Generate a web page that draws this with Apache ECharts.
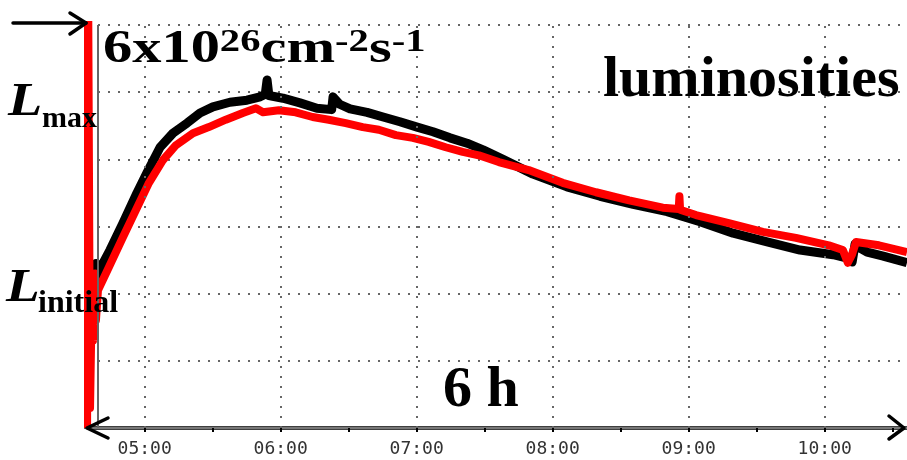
<!DOCTYPE html>
<html><head><meta charset="utf-8">
<script src="https://cdn.jsdelivr.net/npm/echarts@6/dist/echarts.min.js"></script>
<style>html,body{margin:0;padding:0;background:#fff}#c{width:907px;height:460px}</style>
</head><body><div id="c"></div>
<script>
// x values: minutes after midnight; y values: luminosity in 10^26 cm^-2 s^-1
const blackTime = [278.1,278.5,279.0,279.4,280.3,281.6,284.7,290.4,296.6,301.0,306.8,312.5,318.7,324.4,330.1,337.6,345.1,350.9,353.2,354.0,354.8,361.0,368.5,376.0,382.5,383.1,386.0,390.6,398.1,405.2,412.6,420.2,427.2,434.7,442.2,449.3,458.1,471.3,486.3,500.9,515.5,530.5,545.0,559.6,574.6,589.1,603.7,609.9,612.1,613.4,615.6,618.7,625.8,636.3];
const blackLum  = [2.25,2.45,2.10,2.40,2.35,2.45,2.65,3.05,3.50,3.80,4.18,4.39,4.54,4.69,4.78,4.85,4.88,4.93,4.97,5.18,4.95,4.91,4.84,4.76,4.74,4.93,4.82,4.75,4.70,4.63,4.56,4.48,4.41,4.32,4.24,4.14,4.00,3.78,3.59,3.45,3.33,3.22,3.07,2.90,2.77,2.65,2.58,2.53,2.47,2.74,2.68,2.62,2.56,2.46];
const redTime = [274.6,275.0,275.9,276.8,277.2,278.1,278.5,279.4,284.3,290.4,296.2,301.9,308.1,313.8,321.3,328.3,335.8,343.3,349.1,352.2,359.2,366.6,374.1,381.2,388.7,396.2,403.3,410.8,418.3,425.3,432.8,440.3,447.4,456.2,469.4,484.4,499.1,513.7,528.6,535.6,535.9,536.2,543.2,557.7,572.7,587.3,601.8,608.0,610.2,612.0,613.8,623.9,636.3];
const redLum  = [0.00,7.00,0.30,2.20,1.30,2.30,1.60,2.05,2.40,2.84,3.25,3.65,3.99,4.21,4.39,4.48,4.59,4.69,4.76,4.70,4.73,4.70,4.63,4.59,4.54,4.48,4.44,4.36,4.32,4.26,4.18,4.11,4.06,3.96,3.84,3.65,3.51,3.39,3.28,3.26,3.45,3.25,3.17,3.05,2.92,2.83,2.72,2.65,2.46,2.58,2.77,2.72,2.62];
const hourTicks = [300,360,420,480,540,600];
const halfHourTicks = [300,330,360,390,420,450,480,510,540,570,600,630];
const cursorTime = [279.4];
const lmaxLum = [4.88];
const lmaxSpan = [274.5, 323.5];
const xMin = 275, xMax = 636.3, yMin = 0, yMax = 6;
const labels = {
  title: ['6x10', '26', 'cm', '-2', 's', '-1'],
  lmax: ['L', 'max'],
  linit: ['L', 'initial'],
  lum: 'luminosities',
  dur: '6 h'
};

function hhmm(v){const h=Math.floor(v/60),m=Math.round(v-h*60);return String(h).padStart(2,'0')+':'+String(m).padStart(2,'0');}
const zip=(a,b)=>a.map((v,i)=>[v,b[i]]);

const chart = echarts.init(document.getElementById('c'), null, {renderer:'canvas'});
const dots = {color:'#666', width:2, type:[2,8]};
chart.setOption({
  animation:false,
  backgroundColor:'#fff',
  grid:{left:88, right:0, top:25, bottom:32, containLabel:false, outerBoundsMode:'none'},
  xAxis:[{
    type:'value', min:xMin, max:xMax, position:'bottom',
    axisLine:{show:true, onZero:false, lineStyle:{color:'#000', width:3.5}},
    axisTick:{show:true, customValues:halfHourTicks, length:4, lineStyle:{color:'#000', width:2}},
    axisLabel:{show:true, customValues:hourTicks, formatter:v=>hhmm(v), margin:12, color:'#333', fontFamily:'DejaVu Sans Mono', fontSize:18},
    splitLine:{show:false}
  },{
    type:'value', min:xMin, max:xMax, position:'top',
    axisLine:{show:true, lineStyle:{color:'#777', width:2}},
    axisTick:{show:false}, axisLabel:{show:false}, splitLine:{show:false}
  }],
  yAxis:[{
    type:'value', min:yMin, max:yMax, interval:1,
    axisLine:{show:true, lineStyle:{color:'#666', width:2}},
    axisTick:{show:true, length:4, lineStyle:{color:'#666'}},
    minorTick:{show:true, splitNumber:2, length:4, lineStyle:{color:'#666'}},
    axisLabel:{show:false},
    splitLine:{show:true, lineStyle:dots}
  }],
  series:[
    {type:'line', data:[], z:1, silent:true,
      markLine:{symbol:'none', silent:true, animation:false, label:{show:false},
        lineStyle:dots, data:hourTicks.map(v=>({xAxis:v}))}},
    {type:'line', data:[], z:1, silent:true,
      markLine:{symbol:'none', silent:true, animation:false, label:{show:false},
        lineStyle:{color:'#666', width:2, type:'solid'}, data:cursorTime.map(v=>({xAxis:v}))}},
    {name:'black', type:'line', data:zip(blackTime,blackLum), showSymbol:false, symbol:'none', z:3,
      lineStyle:{color:'#000', width:9, join:'round'}, clip:true},
    {name:'red', type:'line', data:zip(redTime,redLum), showSymbol:false, symbol:'none', z:4,
      lineStyle:{color:'#ff0000', width:8, join:'round'}, clip:true},
    {type:'line', data:[], z:5, silent:true,
      markLine:{symbol:'none', silent:true, animation:false, label:{show:false},
        lineStyle:{color:'#000', width:3, type:'solid'},
        data:[[{coord:[lmaxSpan[0], lmaxLum[0]]},{coord:[lmaxSpan[1], lmaxLum[0]]}]]}}
  ]
});

const p0 = chart.convertToPixel({gridIndex:0}, [xMin, yMin]);
const p1 = chart.convertToPixel({gridIndex:0}, [xMax, yMax]);
const serif = '"Liberation Serif", "Times New Roman", serif';
const blk = {stroke:'#000', lineWidth:3.5, fill:null, lineCap:'round', lineJoin:'round'};
chart.setOption({graphic:[
  // bottom double arrow heads
  {type:'polyline', shape:{points:[[p0[0]+20,p0[1]-10],[p0[0]-1,p0[1]],[p0[0]+20,p0[1]+10]]}, style:blk, z:100},
  {type:'polyline', shape:{points:[[p1[0]-18,p0[1]-12],[p1[0]-3,p0[1]],[p1[0]-18,p0[1]+11]]}, style:blk, z:100},
  // top-left arrow
  {type:'polyline', shape:{points:[[13,p1[1]-2],[p0[0]-2,p1[1]-2]]}, style:blk, z:100},
  {type:'polyline', shape:{points:[[p0[0]-18,p1[1]-12],[p0[0]-2,p1[1]-2],[p0[0]-18,p1[1]+9]]}, style:blk, z:100},
  // title
  {type:'text', x:103, y:27, scaleX:1.27, z:100, style:{
    text:'{a|'+labels.title[0]+'}{s|'+labels.title[1]+'}{a|'+labels.title[2]+'}{s|'+labels.title[3]+'}{a|'+labels.title[4]+'}{s|'+labels.title[5]+'}',
    rich:{a:{font:'bold 46px '+serif, fill:'#000', lineHeight:46, verticalAlign:'bottom'},
          s:{font:'bold 32px '+serif, fill:'#000', lineHeight:46, verticalAlign:'top'}}}},
  {type:'text', x:603, y:52, z:100, style:{text:labels.lum, font:'bold 58px '+serif, fill:'#000'}},
  {type:'text', x:443, y:362, z:100, style:{text:labels.dur, font:'bold 58px '+serif, fill:'#000'}},
  {type:'text', x:8, y:80, scaleX:1.22, z:100, style:{text:labels.lmax[0], font:'italic bold 46px '+serif, fill:'#000'}},
  {type:'text', x:42, y:104, z:100, style:{text:labels.lmax[1], font:'bold 30px '+serif, fill:'#000'}},
  {type:'text', x:6, y:266, scaleX:1.2, z:100, style:{text:labels.linit[0], font:'italic bold 46px '+serif, fill:'#000'}},
  {type:'text', x:38, y:288, z:100, style:{text:labels.linit[1], font:'bold 32px '+serif, fill:'#000'}}
]});
</script></body></html>
